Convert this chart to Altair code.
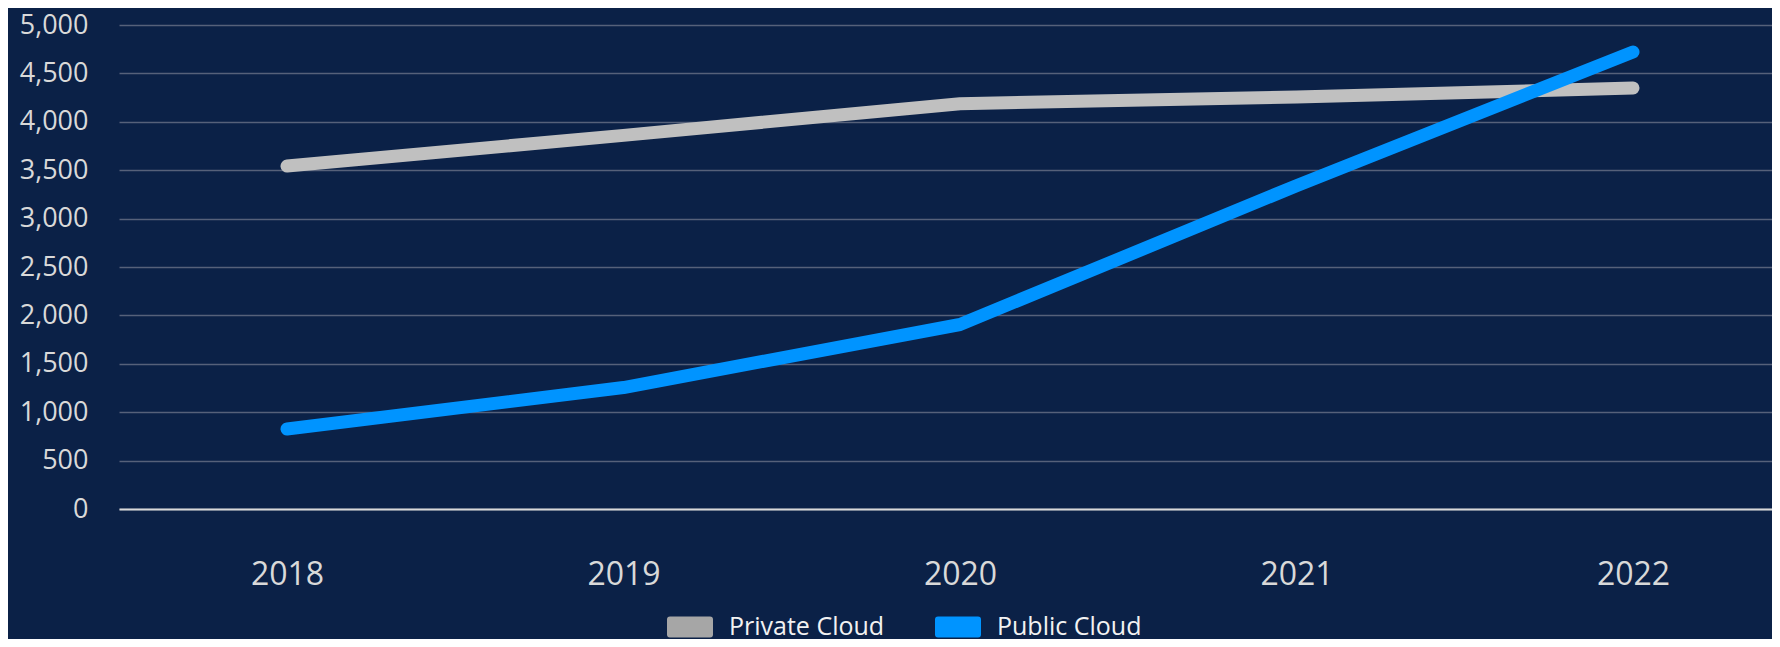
import altair as alt
import pandas as pd

# ---- data ----
years = [2018, 2019, 2020, 2021, 2022]
private_cloud = [3543, 3860, 4187, 4256, 4349]
public_cloud = [826, 1255, 1906, 3340, 4721]
series_names = ["Private Cloud", "Public Cloud"]
line_colors = ["#c0c0c0", "#0094ff"]
legend_colors = ["#a6a6a6", "#0094ff"]
y_ticks = list(range(0, 5001, 500))

rows = []
for i, yr in enumerate(years):
    rows.append({"year": yr, "series": series_names[0], "value": private_cloud[i]})
    rows.append({"year": yr, "series": series_names[1], "value": public_cloud[i]})
df = pd.DataFrame(rows)

# ---- layout ----
PLOT_W, PLOT_H = 1653, 484
STEP = 336.5     # pixel distance between years
FIRST = 168      # pixel offset of first year from plot left
x_domain = [years[0] - FIRST / STEP, years[0] + (PLOT_W - FIRST) / STEP]
FONT = "Open Sans"

x = alt.X(
    "year:Q",
    scale=alt.Scale(domain=x_domain, nice=False, zero=False),
    axis=alt.Axis(
        values=years, format="d", title=None, grid=False, ticks=False,
        domain=True, domainColor="#d9d9d9", domainWidth=2,
        labelFontSize=32, labelColor="#d9d9d9", labelPadding=50,
        labelFont=FONT, labelFlush=False,
    ),
)
y = alt.Y(
    "value:Q",
    scale=alt.Scale(domain=[0, 5000], nice=False),
    axis=alt.Axis(
        values=y_ticks, format=",d", title=None, ticks=False, domain=False,
        grid=True, gridColor="#56617a", gridWidth=1.5,
        labelFontSize=27, labelColor="#d9d9d9", labelPadding=31, labelFont=FONT,
    ),
)

rect_path = ("M-0.87,-0.4565 H0.87 Q1,-0.4565 1,-0.3265 V0.3265 Q1,0.4565 0.87,0.4565 "
             "H-0.87 Q-1,0.4565 -1,0.3265 V-0.3265 Q-1,-0.4565 -0.87,-0.4565 Z")

lines = alt.Chart(df).mark_line(
    strokeWidth=13, strokeCap="round", strokeJoin="round"
).encode(
    x=x, y=y,
    stroke=alt.Stroke("series:N", scale=alt.Scale(domain=series_names, range=line_colors), legend=None),
)

legend_layer = alt.Chart(df).mark_point(filled=True, size=0, opacity=1).encode(
    x=x, y=y,
    fill=alt.Fill(
        "series:N",
        scale=alt.Scale(domain=series_names, range=legend_colors),
        legend=alt.Legend(
            orient="none", legendX=548, legendY=579, direction="horizontal",
            title=None, symbolType=rect_path, symbolSize=2116, symbolStrokeWidth=0,
            symbolOpacity=1,
            labelFontSize=25, labelColor="#f2f2f2", labelFont=FONT, labelLimit=400,
            labelOffset=16, columnPadding=50, padding=0,
        ),
    ),
)

chart = alt.layer(legend_layer, lines).resolve_scale(
    fill="independent", stroke="independent"
).properties(
    width=PLOT_W, height=PLOT_H,
    padding={"left": 111, "top": 17, "right": 0, "bottom": 130},
    autosize=alt.AutoSizeParams(type="none"),
    background="#0b2147",
).configure_view(stroke=None)

chart.save("out.html", embed_options={"renderer": "svg", "actions": False})
